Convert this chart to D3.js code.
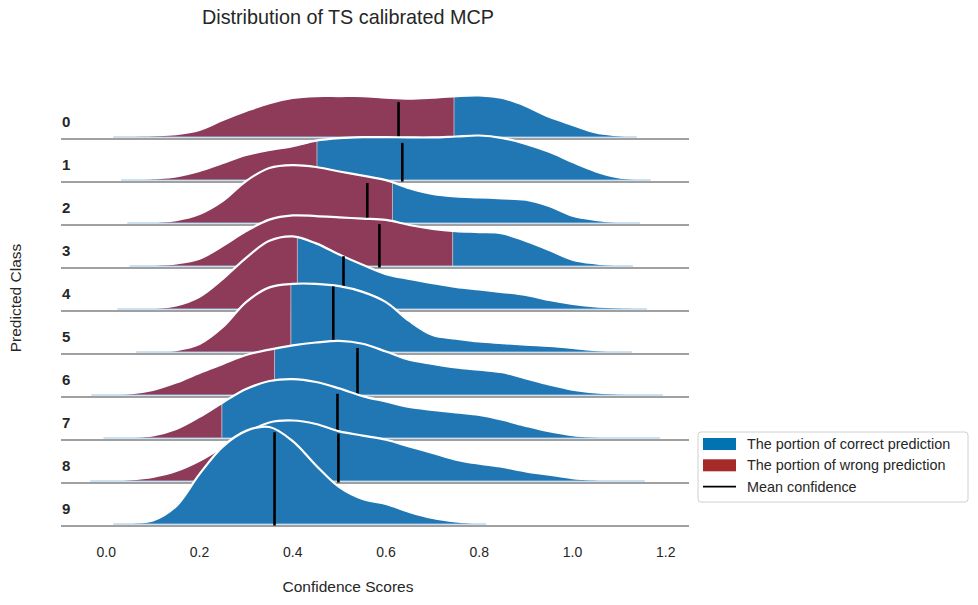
<!DOCTYPE html>
<html>
<head>
<meta charset="utf-8">
<script src="https://cdn.jsdelivr.net/npm/d3@7"></script>
<style>
  body { margin: 0; background: #fff; }
  svg text { font-family: "Liberation Sans", Arial, sans-serif; fill: #262626; }
</style>
</head>
<body>
<div id="chart"></div>
<script>
const classes = ["0", "1", "2", "3", "4", "5", "6", "7", "8", "9"];

// x positions where the kde heights were read
const grid = [-0.05, 0, 0.05, 0.1, 0.15, 0.2, 0.25, 0.3, 0.35, 0.4, 0.45, 0.5, 0.55,
  0.6, 0.65, 0.7, 0.75, 0.8, 0.85, 0.9, 0.95, 1.0, 1.05, 1.1, 1.15, 1.2];

// kde heights per class (null = outside the curve)
const dens0 = [null, null, 0.03, 0.05, 0.09, 0.22, 0.53, 0.81, 1.06, 1.22, 1.28, 1.28, 1.28,
  1.23, 1.2, 1.23, 1.28, 1.3, 1.22, 0.97, 0.63, 0.38, 0.14, 0.05, null, null];
const dens1 = [null, null, 0.02, 0.05, 0.11, 0.28, 0.53, 0.78, 0.94, 1.06, 1.23, 1.31, 1.34,
  1.34, 1.33, 1.33, 1.36, 1.39, 1.31, 1.13, 0.88, 0.56, 0.27, 0.08, 0.02, null];
const dens2 = [null, null, 0.01, 0.03, 0.09, 0.28, 0.69, 1.31, 1.72, 1.81, 1.75, 1.61, 1.48,
  1.34, 1.09, 0.91, 0.83, 0.8, 0.77, 0.73, 0.53, 0.23, 0.1, 0.03, null, null];
const dens3 = [null, null, null, 0.03, 0.08, 0.23, 0.63, 1.09, 1.45, 1.58, 1.56, 1.52, 1.48,
  1.44, 1.28, 1.16, 1.09, 1.06, 1.02, 0.78, 0.5, 0.2, 0.08, 0.02, null, null];
const dens4 = [null, null, 0.02, 0.03, 0.11, 0.38, 0.94, 1.6, 2.13, 2.27, 2.05, 1.7, 1.38,
  1.09, 0.94, 0.81, 0.69, 0.61, 0.53, 0.44, 0.28, 0.16, 0.08, 0.05, 0.02, null];
const dens5 = [null, null, null, 0.02, 0.06, 0.25, 0.78, 1.56, 2.02, 2.13, 2.13, 2.06, 1.88,
  1.56, 0.97, 0.53, 0.42, 0.33, 0.28, 0.23, 0.19, 0.13, 0.06, 0.02, null, null];
const dens6 = [null, 0.02, 0.05, 0.16, 0.39, 0.69, 0.97, 1.25, 1.42, 1.55, 1.64, 1.69, 1.6,
  1.36, 1.1, 0.97, 0.86, 0.79, 0.71, 0.52, 0.33, 0.17, 0.08, 0.04, 0.01, null];
const dens7 = [null, 0.01, 0.03, 0.08, 0.28, 0.66, 1.11, 1.53, 1.78, 1.84, 1.75, 1.55, 1.31,
  1.14, 0.97, 0.88, 0.8, 0.72, 0.57, 0.38, 0.21, 0.09, 0.04, 0.02, 0.01, null];
const dens8 = [null, 0.02, 0.05, 0.13, 0.31, 0.63, 1.06, 1.5, 1.83, 1.89, 1.78, 1.55, 1.42,
  1.29, 1.08, 0.88, 0.67, 0.54, 0.44, 0.3, 0.2, 0.09, 0.04, 0.02, null, null];
const dens9 = [null, null, 0.03, 0.11, 0.56, 1.56, 2.42, 2.91, 3.03, 2.59, 1.83, 1.15, 0.78,
  0.63, 0.38, 0.19, 0.08, 0.02, null, null, null, null, null, null, null, null];
const densities = [dens0, dens1, dens2, dens3, dens4, dens5, dens6, dens7, dens8, dens9];

// where each kde starts / ends
const kdeStart = [0.015, 0.032, 0.045, 0.05, 0.024, 0.064, -0.032, -0.006, -0.034, 0.015];
const kdeEnd = [1.138, 1.168, 1.145, 1.13, 1.16, 1.128, 1.194, 1.188, 1.155, 0.815];

// scores below this are wrong predictions
const splitAt = [0.746, 0.452, 0.614, 0.743, 0.41, 0.396, 0.361, 0.248, 0.28, -0.1];

// mean confidence and the height of its marker
const meanConf = [0.627, 0.635, 0.56, 0.586, 0.509, 0.487, 0.539, 0.496, 0.498, 0.361];
const meanDens = [1.09, 1.16, 1.25, 1.31, 1.65, 2.05, 1.47, 1.38, 1.48, 2.87];

const xTicks = [0, 0.2, 0.4, 0.6, 0.8, 1.0, 1.2];

const legendItems = [
  { label: "The portion of correct prediction", type: "patch", color: "#0173b2" },
  { label: "The portion of wrong prediction", type: "patch", color: "#a52a2a" },
  { label: "Mean confidence", type: "line", color: "#000" },
];

const width = 978;
const height = 605;
const correctColor = "#2077b4";
const wrongColor = "#8e3a59";

const svg = d3
  .select("#chart")
  .append("svg")
  .attr("width", width)
  .attr("height", height);

const x = d3.scaleLinear().domain([-0.097, 1.25]).range([61, 689]);
const rowY = d3.scalePoint().domain(classes).range([139, 526]);
const h = d3.scaleLinear().domain([0, 1]).range([0, 32]);
const zeroY = -2;
const curve = d3.curveCatmullRom.alpha(0.5);

const defs = svg.append("defs");

classes.forEach((cls, i) => {
  const pts = [[kdeStart[i], 0]];
  grid.forEach((g, j) => {
    if (densities[i][j] != null) pts.push([g, densities[i][j]]);
  });
  pts.push([kdeEnd[i], 0]);

  const g = svg.append("g").attr("transform", `translate(0, ${rowY(cls)})`);

  // clip regions left / right of the split
  defs
    .append("clipPath")
    .attr("id", `wrong-${i}`)
    .append("rect")
    .attr("x", 0)
    .attr("y", -200)
    .attr("width", Math.max(0, x(splitAt[i])))
    .attr("height", 200 + zeroY);
  defs
    .append("clipPath")
    .attr("id", `right-${i}`)
    .append("rect")
    .attr("x", x(splitAt[i]))
    .attr("y", -200)
    .attr("width", width)
    .attr("height", 200 + zeroY);

  const area = d3
    .area()
    .curve(curve)
    .x((d) => x(d[0]))
    .y0(zeroY)
    .y1((d) => zeroY - h(d[1]));

  const line = d3
    .line()
    .curve(curve)
    .x((d) => x(d[0]))
    .y((d) => zeroY - h(d[1]));

  g.append("path")
    .datum(pts)
    .attr("d", area)
    .attr("fill", wrongColor)
    .attr("clip-path", `url(#wrong-${i})`);

  g.append("path")
    .datum(pts)
    .attr("d", area)
    .attr("fill", correctColor)
    .attr("clip-path", `url(#right-${i})`);

  // thin edge where the colours meet
  if (splitAt[i] > kdeStart[i]) {
    const k = d3.bisector((d) => d[0]).left(pts, splitAt[i]);
    const a = pts[k - 1];
    const b = pts[k];
    const t = (splitAt[i] - a[0]) / (b[0] - a[0]);
    const dv = a[1] + t * (b[1] - a[1]);
    g.append("line")
      .attr("x1", x(splitAt[i]))
      .attr("x2", x(splitAt[i]))
      .attr("y1", zeroY)
      .attr("y2", zeroY - h(dv))
      .attr("stroke", "#c2a7b6")
      .attr("stroke-width", 1);
  }

  g.append("path")
    .datum(pts)
    .attr("d", line)
    .attr("fill", "none")
    .attr("stroke", "white")
    .attr("stroke-width", 2.2);

  g.append("line")
    .attr("x1", x(kdeStart[i]))
    .attr("x2", x(kdeEnd[i]))
    .attr("y1", zeroY)
    .attr("y2", zeroY)
    .attr("stroke", "#9cc2e2")
    .attr("stroke-width", 1);

  g.append("line")
    .attr("x1", x.range()[0])
    .attr("x2", x.range()[1])
    .attr("y1", 0)
    .attr("y2", 0)
    .attr("stroke", "#808080")
    .attr("stroke-width", 1.4);

  g.append("line")
    .attr("x1", x(meanConf[i]))
    .attr("x2", x(meanConf[i]))
    .attr("y1", -0.5)
    .attr("y2", zeroY - h(meanDens[i]))
    .attr("stroke", "#000")
    .attr("stroke-width", 2.6);

  g.append("text")
    .attr("x", 62)
    .attr("y", -12)
    .attr("font-size", 15)
    .attr("font-weight", "bold")
    .text(cls);
});

// x tick labels, no axis line
svg
  .append("g")
  .selectAll("text")
  .data(xTicks)
  .join("text")
  .attr("x", (d) => x(d))
  .attr("y", 557)
  .attr("text-anchor", "middle")
  .attr("font-size", 14)
  .text((d) => d3.format(".1f")(d));

svg
  .append("text")
  .attr("x", 348)
  .attr("y", 592)
  .attr("text-anchor", "middle")
  .attr("font-size", 15.5)
  .text("Confidence Scores");

svg
  .append("text")
  .attr("transform", "translate(21, 298) rotate(-90)")
  .attr("text-anchor", "middle")
  .attr("font-size", 15.5)
  .text("Predicted Class");

svg
  .append("text")
  .attr("x", 348)
  .attr("y", 24)
  .attr("text-anchor", "middle")
  .attr("font-size", 19.8)
  .text("Distribution of TS calibrated MCP");

// legend
const legend = svg.append("g").attr("transform", "translate(698, 432)");
legend
  .append("rect")
  .attr("width", 270)
  .attr("height", 70)
  .attr("rx", 3)
  .attr("fill", "white")
  .attr("stroke", "#d0d0d0");

const items = legend
  .selectAll("g")
  .data(legendItems)
  .join("g")
  .attr("transform", (d, i) => `translate(0, ${12 + i * 21.3})`);

items
  .filter((d) => d.type === "patch")
  .append("rect")
  .attr("x", 5)
  .attr("y", -6)
  .attr("width", 33)
  .attr("height", 12)
  .attr("fill", (d) => d.color);

items
  .filter((d) => d.type === "line")
  .append("line")
  .attr("x1", 5)
  .attr("x2", 38)
  .attr("stroke", (d) => d.color)
  .attr("stroke-width", 1.6);

items
  .append("text")
  .attr("x", 49)
  .attr("dy", "0.35em")
  .attr("font-size", 14.4)
  .text((d) => d.label);
</script>
</body>
</html>
